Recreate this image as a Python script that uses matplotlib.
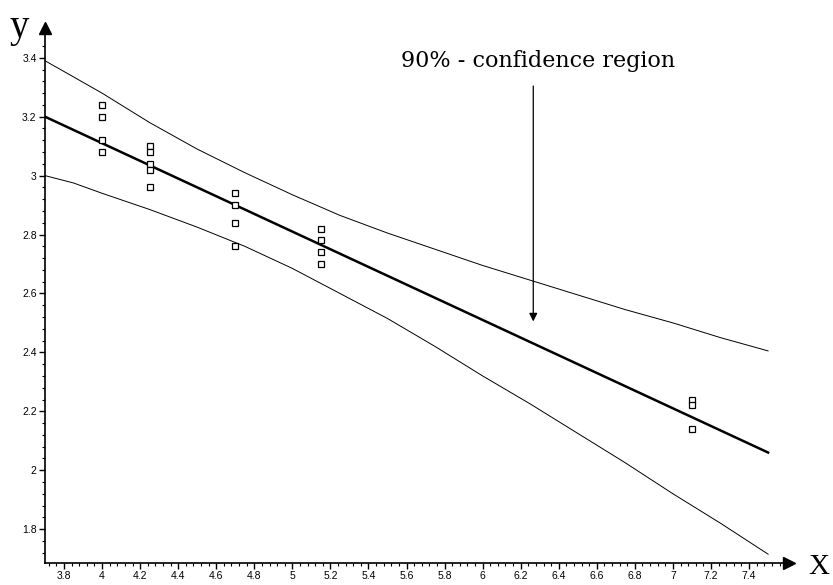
import numpy as np
import matplotlib
matplotlib.use("Agg")
import matplotlib.pyplot as plt
from matplotlib.ticker import MultipleLocator, FormatStrFormatter

obs_x = [4.0, 4.0, 4.0, 4.0,
         4.25, 4.25, 4.25, 4.25, 4.25,
         4.7, 4.7, 4.7, 4.7,
         5.15, 5.15, 5.15, 5.15,
         7.1, 7.1, 7.1]
obs_y = [3.24, 3.20, 3.12, 3.08,
         3.10, 3.08, 3.04, 3.02, 2.96,
         2.94, 2.90, 2.84, 2.76,
         2.82, 2.78, 2.74, 2.70,
         2.24, 2.22, 2.14]

# regression line and 90% band, sampled along x
curve_x = [3.7, 3.85, 4.0, 4.25, 4.5, 4.75, 5.0, 5.25, 5.5,
           5.75, 6.0, 6.25, 6.5, 6.75, 7.0, 7.25, 7.5]
fit_y = [3.200, 3.155, 3.110, 3.035, 2.960, 2.885, 2.810, 2.735, 2.660,
         2.585, 2.510, 2.435, 2.360, 2.285, 2.210, 2.135, 2.060]
upper_y = [3.390, 3.335, 3.280, 3.180, 3.090, 3.010, 2.935, 2.865, 2.805,
           2.750, 2.695, 2.645, 2.595, 2.545, 2.500, 2.450, 2.405]
lower_y = [3.000, 2.975, 2.940, 2.885, 2.825, 2.760, 2.685, 2.600, 2.515,
           2.420, 2.320, 2.225, 2.125, 2.025, 1.920, 1.820, 1.715]

annot_text = "90% - confidence region"

fig = plt.figure(figsize=(8.33, 5.85), dpi=100)
ax = fig.add_axes([0.054, 0.0381, 0.8932, 0.914])
ax.set_xlim(3.7, 7.61)
ax.set_ylim(1.686, 3.501)

ax.plot(curve_x, upper_y, color="black", lw=0.7)
ax.plot(curve_x, lower_y, color="black", lw=0.7)
ax.plot(curve_x, fit_y, color="black", lw=1.8)
ax.plot(obs_x, obs_y, "s", mfc="white", mec="black", ms=4.3, mew=0.9, ls="none")

# axes look: only left/bottom with arrow heads
for s in ["top", "right"]:
    ax.spines[s].set_visible(False)
for s in ["left", "bottom"]:
    ax.spines[s].set_linewidth(1.2)
ax.plot(1, 0, ">k", ms=9, transform=ax.transAxes, clip_on=False)
ax.plot(0, 1, "^k", ms=8, transform=ax.transAxes, clip_on=False)

ax.xaxis.set_minor_locator(MultipleLocator(0.04))
ax.yaxis.set_minor_locator(MultipleLocator(0.04))
ax.xaxis.set_major_formatter(FormatStrFormatter("%g"))
ax.yaxis.set_major_formatter(FormatStrFormatter("%g"))
ax.set_xticks(np.round(np.arange(3.8, 7.41, 0.2), 2))
ax.set_yticks(np.round(np.arange(1.8, 3.41, 0.2), 2))
ax.tick_params(which="major", direction="out", length=4, width=1, labelsize=7.5, pad=2)
ax.tick_params(which="minor", direction="out", length=2.5, width=0.8)
for lab in ax.get_xticklabels() + ax.get_yticklabels():
    lab.set_family("Liberation Sans")

fig.text(0.012, 0.985, "y", family="Liberation Serif", fontsize=28, va="top", ha="left")
fig.text(0.970, 0.008, "X", family="Liberation Serif", fontsize=21, va="bottom", ha="left")

ax.annotate("", xy=(6.266, 2.505), xytext=(6.266, 3.304),
            arrowprops=dict(arrowstyle="-|>", color="black", lw=0.9,
                            mutation_scale=12, shrinkA=0, shrinkB=0))
ax.text(6.29, 3.368, annot_text, family="DejaVu Serif", fontsize=16,
        ha="center", va="baseline")

fig.savefig("out.png", dpi=100)
